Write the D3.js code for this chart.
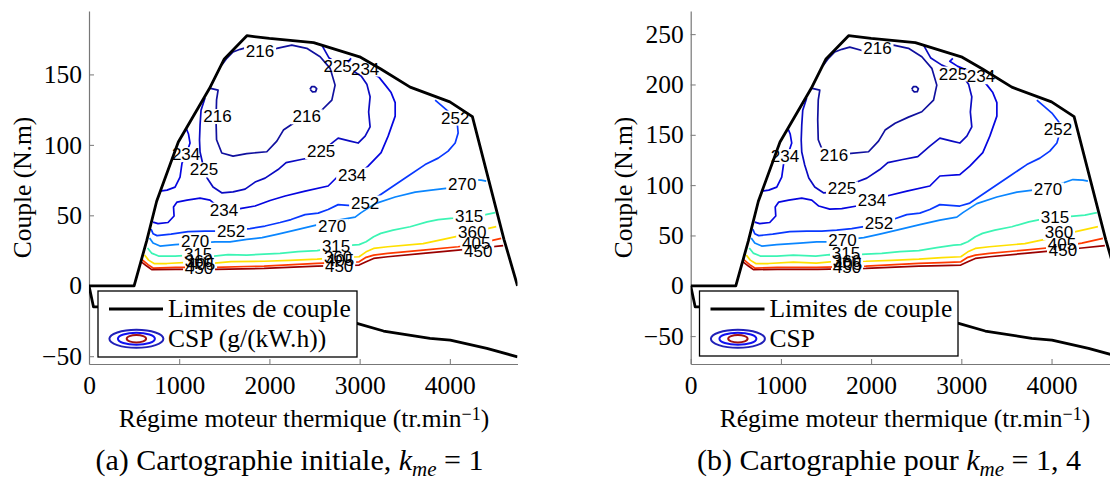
<!DOCTYPE html>
<html>
<head>
<meta charset="utf-8">
<script src="https://cdn.jsdelivr.net/npm/d3@7"></script>
<style>
html,body{margin:0;padding:0;background:#fff;}
svg{display:block;}
</style>
</head>
<body>
<svg id="chart" width="1110" height="480"></svg>
<script>
// ================= DATA =================
const rpmLimits = [0, 4750];
const torqueLimits = [-55.5, 195];           // axis limits for k_me = 1
const rpmTicks = [0, 1000, 2000, 3000, 4000];
const torqueTicksA = [-50, 0, 50, 100, 150];
const torqueTicksB = [-50, 0, 50, 100, 150, 200, 250];
const kmeValues = [1, 1.4];
const kmeTexts = ["1", "1, 4"];
const captionTexts = ["(a) Cartographie initiale, ", "(b) Cartographie pour "];
const legendLimitText = "Limites de couple";
const legendCspTexts = ["CSP (g/(kW.h))", "CSP"];
const xTitle = "Régime moteur thermique (tr.min";
const yTitle = "Couple (N.m)";

// torque limits (k_me = 1 units)
const maxTorqueRpm = [0, 500, 640, 750, 990, 1335, 1500, 1750, 2000, 2490, 3000, 3230, 3560, 4000, 4250, 4600, 4750];
const maxTorque    = [0, 0, 32, 60, 102, 140, 161, 177.5, 175.5, 172.5, 162.5, 154, 141, 130.5, 120, 33, 0];
const minTorqueRpm = [0, 50, 200, 1000, 2000, 2970, 3265, 3780, 4005, 4410, 4750];
const minTorque    = [0, -15, -15, -18, -22, -26.7, -32.1, -37.3, -38.5, -44.4, -50.4];

// CSP iso-lines (rpm, torque for k_me = 1)
const cspLevels = [216, 225, 234, 252, 270, 315, 360, 405, 450];
const csp216a = [[1336,140.3],[1431,138.9],[1414,131.9],[1408,117.8],[1414,103.6],[1472,94.2],[1597,92.0],[1749,93.8],[1971,95.1],[2082,102.7],[2155,110.5],[2266,115.3],[2414,119.7],[2562,123.5],[2692,131.8],[2728,142.4],[2673,154.3],[2562,162.5],[2414,168.5],[2248,170.8],[2082,168.5],[1919,166.6],[1763,169.4],[1675,167.8],[1597,165.9],[1530,161.6],[1472,156.6]];
const csp216b = [[2450,139.5],[2468,141.3],[2500,141.4],[2524,139.9],[2512,137.8],[2478,137.6],[2450,139.5]];
const csp225 = [[1286,133.2],[1242,124.6],[1231,114.0],[1225,103.4],[1231,94.9],[1264,85.7],[1309,76.5],[1375,70.1],[1475,65.9],[1597,66.6],[1730,68.6],[1841,73.6],[1952,76.4],[2096,82.5],[2185,87.4],[2351,89.6],[2517,91.7],[2651,99.1],[2762,104.8],[2895,102.7],[2983,101.3],[3061,106.2],[3116,112.8],[3100,123.3],[3116,134.1],[3080,143.1],[3017,148.8],[2917,153.0],[2784,156.6],[2662,161.6],[2581,170.8]];
const csp234a = [[1076,111.9],[1103,107.7],[1120,101.3],[1087,94.9],[1031,87.1],[1009,77.1],[954,70.0],[865,67.9],[787,67.2]];
const csp234b = [[710,45.2],[765,44.1],[876,44.9],[943,49.5],[937,55.9],[976,59.4],[1087,60.8],[1231,62.2],[1342,60.8],[1420,56.6],[1541,54.4],[1675,54.8],[1841,56.6],[2007,60.5],[2174,63.7],[2396,67.2],[2651,70.8],[2762,77.9],[2983,78.9],[3094,84.9],[3238,94.5],[3316,106.2],[3394,120.4],[3394,130.0],[3349,137.1],[3294,141.7],[3216,147.9],[3094,152.2],[2961,155.7],[2872,159.3],[2906,161.4]];
const csp252 = [[688,40.2],[710,37.0],[754,35.6],[909,36.7],[1098,38.5],[1286,38.8],[1453,38.8],[1619,39.5],[1785,40.6],[1952,42.4],[2118,44.9],[2240,47.0],[2395,50.5],[2540,51.6],[2651,54.1],[2762,57.6],[2983,56.6],[3094,58.7],[3316,68.3],[3538,77.9],[3726,86.0],[3871,90.6],[3981,95.6],[4059,101.3],[4092,108.4],[4081,116.2],[4004,122.6],[3915,127.5],[3837,131.8]];
const csp270 = [[671,33.9],[710,30.3],[787,28.2],[954,29.2],[1209,30.3],[1397,31.2],[1564,31.2],[1749,32.9],[1919,34.2],[2096,36.7],[2285,39.5],[2540,43.4],[2762,46.6],[2950,48.7],[3017,51.9],[3172,58.3],[3394,63.0],[3616,66.5],[3793,67.9],[3981,69.3],[4126,72.9],[4237,75.4],[4347,75.0],[4403,74.3]];
const csp315 = [[649,26.8],[693,23.2],[771,21.1],[954,21.1],[1137,21.8],[1386,21.1],[1542,22.1],[1749,21.8],[1941,22.5],[2118,23.0],[2318,24.3],[2529,25.0],[2728,27.1],[2917,28.9],[2994,29.2],[3072,31.2],[3155,34.8],[3234,37.2],[3371,39.5],[3560,41.9],[3748,45.4],[3871,47.0],[4037,48.0],[4181,49.1],[4370,50.2],[4503,51.9]];
const csp360 = [[616,21.8],[660,18.2],[721,15.8],[862,15.8],[1137,16.8],[1392,16.1],[1575,17.2],[1941,17.4],[2229,18.1],[2529,18.9],[2784,20.0],[2994,20.6],[3072,24.1],[3155,26.5],[3311,27.7],[3704,29.9],[3926,32.9],[4092,35.2],[4243,38.1],[4392,40.2],[4514,42.0]];
const csp405 = [[588,18.6],[654,15.0],[710,12.6],[960,13.1],[1392,13.1],[1941,14.0],[2529,15.9],[2784,16.5],[2994,17.0],[3072,20.2],[3155,21.8],[3311,23.0],[3704,25.3],[4092,27.7],[4336,30.3],[4569,33.6]];
const csp450 = [[580,17.0],[640,14.0],[695,11.5],[960,11.6],[1408,11.6],[1941,12.3],[2529,14.0],[2784,14.3],[2994,14.7],[3072,17.0],[3155,19.4],[3311,20.6],[3704,23.0],[4092,25.3],[4336,26.8],[4591,28.5]];

// contour labels: [level, rpm, torque] (torque in each panel's own units)
const labelsA = [[216,1896,166.6],[216,1425,120.1],[216,2414,119.9],[225,2756,155.6],[234,3061,153.8],[234,1076,93.1],[225,1275,82.2],[225,2573,95.2],[234,2917,78.6],[252,4059,119.0],[234,1497,53.7],[252,3061,58.7],[252,1575,38.5],[270,4137,72.2],[270,2695,41.9],[270,1176,31.4],[315,4214,49.1],[315,2739,27.8],[315,1209,22.5],[360,4248,38.1],[405,4292,30.3],[450,4314,24.6],[360,2761,20.4],[405,2784,18.2],[450,2773,14.0],[360,1220,17.5],[405,1242,15.4],[450,1220,12.6]];
const labelsB = [[216,2071,236.0],[225,2908,210.4],[234,3218,207.7],[252,4072,154.8],[216,1589,129.9],[234,1045,128.3],[225,1677,96.2],[234,2010,85.2],[252,2088,61.9],[270,3961,95.2],[315,4038,67.9],[360,4083,53.0],[405,4116,41.5],[450,4127,34.6],[270,1683,44.5],[315,1722,31.6],[360,1733,24.6],[405,1744,21.2],[450,1733,17.7]];

// ================= DRAWING =================
const W = 1110, H = 480;
const SERIF = "'Liberation Serif','Times New Roman',Times,serif";
const SANS = "'Liberation Sans',Arial,Helvetica,sans-serif";
const svg = d3.select('#chart');
const defs = svg.append('defs');
const colorOf = d3.scaleOrdinal().domain(cspLevels)
  .range(['#10109e','#0a0ac2','#0505e0','#0838ff','#0a86ff','#3cf5b4','#ffe000','#ff3a00','#9a0000']);
const contourSets = [[216,csp216a],[216,csp216b],[225,csp225],[234,csp234a],[234,csp234b],[252,csp252],[270,csp270],[315,csp315],[360,csp360],[405,csp405],[450,csp450]];
const maxPts = maxTorqueRpm.map((r,j)=>[r, maxTorque[j]]);
const minPts = minTorqueRpm.map((r,j)=>[r, minTorque[j]]);

const layouts = [
  {id:'a', left:89, right:517.5, top:11, bottom:364, yLabelX:31, capX:289.5, xTitleX:304, yTicks:torqueTicksA, labels:labelsA, lg:{x:98, y:291, w:259, h:66}},
  {id:'b', left:690.7, right:1119.2, top:11, bottom:364, yLabelX:632, capX:889, xTitleX:905, yTicks:torqueTicksB, labels:labelsB, lg:{x:699.5, y:291, w:258.5, h:65}}
];

layouts.forEach((L, i) => {
  const k = kmeValues[i];
  const x = d3.scaleLinear().domain(rpmLimits).range([L.left, L.right]);
  const y = d3.scaleLinear().domain(torqueLimits.map(v => v * k)).range([L.bottom, L.top]);
  const g = svg.append('g');

  defs.append('clipPath').attr('id', 'clip' + L.id).append('rect')
    .attr('x', L.left).attr('y', L.top).attr('width', L.right - L.left).attr('height', L.bottom - L.top);

  cspLevels.forEach(lv => {
    const m = defs.append('mask').attr('id', `mask${L.id}${lv}`).attr('maskUnits', 'userSpaceOnUse')
      .attr('x', 0).attr('y', 0).attr('width', W).attr('height', H);
    m.append('rect').attr('x', 0).attr('y', 0).attr('width', W).attr('height', H).attr('fill', '#fff');
    L.labels.filter(d => d[0] === lv).forEach(d => {
      m.append('rect').attr('x', x(d[1]) - 16).attr('y', y(d[2]) - 7.5).attr('width', 32).attr('height', 15).attr('fill', '#000');
    });
  });

  // axes
  const ay = d3.axisLeft(y).tickValues(L.yTicks).tickSizeInner(-5).tickSizeOuter(0).tickPadding(7);
  const ax = d3.axisBottom(x).tickValues(rpmTicks).tickSizeInner(-5).tickSizeOuter(0).tickPadding(12).tickFormat(d3.format('d'));
  const gy = g.append('g').attr('transform', `translate(${L.left},0)`).call(ay);
  const gx = g.append('g').attr('transform', `translate(0,${L.bottom})`).call(ax);
  [gx, gy].forEach(a => {
    a.attr('font-family', null).attr('font-size', null);
    a.select('.domain').attr('stroke', '#777').attr('stroke-width', 1.2);
    a.selectAll('.tick line').attr('stroke', '#777').attr('stroke-width', 1);
    a.selectAll('.tick text').attr('fill', '#000').style('font-family', SERIF).style('font-size', '25.5px');
  });

  // plot content
  const plot = g.append('g').attr('clip-path', `url(#clip${L.id})`);
  const line = d3.line().x(d => x(d[0])).y(d => y(d[1] * k));
  contourSets.forEach(([lv, pts]) => {
    plot.append('path').attr('d', line(pts)).attr('fill', 'none').attr('stroke', colorOf(lv))
      .attr('stroke-width', 1.7).attr('stroke-linejoin', 'round').attr('mask', `url(#mask${L.id}${lv})`);
  });
  [maxPts, minPts].forEach(pts => {
    plot.append('path').attr('d', line(pts)).attr('fill', 'none').attr('stroke', '#000')
      .attr('stroke-width', 2.8).attr('stroke-linejoin', 'round');
  });

  // contour labels
  g.append('g').selectAll('text').data(L.labels).enter().append('text')
    .attr('x', d => x(d[1])).attr('y', d => y(d[2]))
    .attr('text-anchor', 'middle').attr('dominant-baseline', 'central')
    .style('font-family', SANS).style('font-size', '17px').attr('fill', '#000')
    .text(d => d[0]);

  // legend
  const lg = svg.append('g');
  lg.append('rect').attr('x', L.lg.x).attr('y', L.lg.y).attr('width', L.lg.w).attr('height', L.lg.h)
    .attr('fill', '#fff').attr('stroke', '#000').attr('stroke-width', 1.3);
  lg.append('line').attr('x1', L.lg.x + 11).attr('x2', L.lg.x + 65).attr('y1', 309).attr('y2', 309)
    .attr('stroke', '#000').attr('stroke-width', 3);
  lg.append('text').attr('x', L.lg.x + 70).attr('y', 317).style('font-family', SERIF).style('font-size', '25.5px').text(legendLimitText);
  const ecx = L.lg.x + 38.4, ecy = 338.8;
  [[27, 9, '#2020b8'], [18.5, 6, '#1010f0'], [9.7, 3.7, '#a01010']].forEach(([rx, ry, c]) => {
    lg.append('ellipse').attr('cx', ecx).attr('cy', ecy).attr('rx', rx).attr('ry', ry)
      .attr('fill', 'none').attr('stroke', c).attr('stroke-width', 2);
  });
  lg.append('text').attr('x', L.lg.x + 70).attr('y', 347).style('font-family', SERIF).style('font-size', '25.5px').text(legendCspTexts[i]);

  // axis titles
  const xt = svg.append('text').attr('x', L.xTitleX).attr('y', 427).attr('text-anchor', 'middle')
    .style('font-family', SERIF).style('font-size', '25.5px');
  xt.append('tspan').text(xTitle);
  xt.append('tspan').attr('dy', -7).style('font-size', '18px').text('\u22121');
  xt.append('tspan').attr('dy', 7).text(')');

  svg.append('text').attr('transform', `translate(${L.yLabelX},${(L.top + L.bottom) / 2}) rotate(-90)`)
    .attr('text-anchor', 'middle').style('font-family', SERIF).style('font-size', '25.5px').text(yTitle);

  // caption
  const cap = svg.append('text').attr('x', L.capX).attr('y', 470).attr('text-anchor', 'middle')
    .style('font-family', SERIF).style('font-size', '30px');
  cap.append('tspan').text(captionTexts[i]);
  cap.append('tspan').style('font-style', 'italic').text('k');
  cap.append('tspan').style('font-style', 'italic').style('font-size', '21px').attr('dy', 6).text('me');
  cap.append('tspan').attr('dy', -6).text(' = ' + kmeTexts[i]);
});
</script>
</body>
</html>
